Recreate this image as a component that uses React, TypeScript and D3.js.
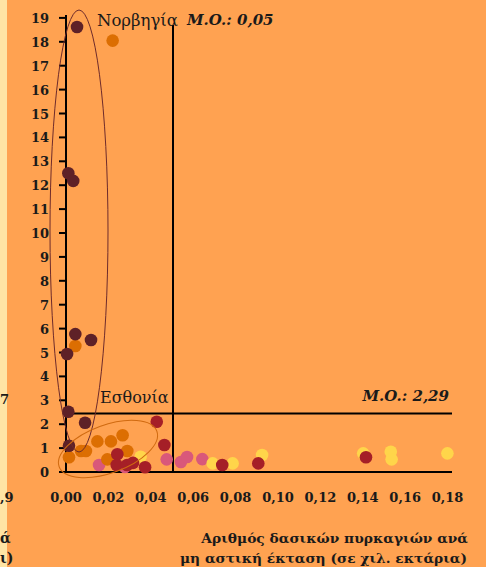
import React from "react";
import * as d3 from "d3";

const W = 486;
const H = 567;

const xTicks = [0, 0.02, 0.04, 0.06, 0.08, 0.1, 0.12, 0.14, 0.16, 0.18];
const yTicks = d3.range(0, 20);

const darkBrownPts: [number, number][] = [
  [0.0052, 18.62], [0.0011, 12.5], [0.0034, 12.18], [0.0044, 5.77], [0.0118, 5.52],
  [0.0005, 4.94], [0.0011, 2.52], [0.009, 2.06], [0.0014, 1.1],
];
const orangePts: [number, number][] = [
  [0.022, 18.05], [0.0044, 5.27], [0.0014, 0.62], [0.0071, 0.88], [0.0094, 0.88],
  [0.0148, 1.28], [0.0212, 1.28], [0.0267, 1.54], [0.0289, 0.88], [0.0195, 0.53],
];
const crimsonPts: [number, number][] = [
  [0.0428, 2.1], [0.0464, 1.13], [0.0242, 0.74], [0.0239, 0.29], [0.0288, 0.29],
  [0.0316, 0.38], [0.0373, 0.2], [0.0737, 0.29], [0.0907, 0.36], [0.1415, 0.62],
];
const pinkPts: [number, number][] = [
  [0.0156, 0.29], [0.0278, 0.21], [0.0475, 0.53], [0.0542, 0.42], [0.0571, 0.63], [0.0643, 0.54],
];
const yellowPts: [number, number][] = [
  [0.0352, 0.64], [0.0692, 0.36], [0.0786, 0.36], [0.0925, 0.71], [0.1402, 0.78],
  [0.1532, 0.85], [0.1536, 0.53], [0.1799, 0.78],
];

const meanX = 0.05;
const meanXLabel = "M.O.: 0,05";
const meanYPos = 2.45; // drawn position as in the picture
const meanYLabel = "M.O.: 2,29";

const series = [
  { pts: pinkPts, color: "#D9587A" },
  { pts: yellowPts, color: "#FFD54A" },
  { pts: orangePts, color: "#DC6E02" },
  { pts: crimsonPts, color: "#A51F27" },
  { pts: darkBrownPts, color: "#5E2127" },
];

const fmt = (v: number) => d3.format(".2f")(v).replace(".", ",");

export default function App() {
  const x = d3.scaleLinear().domain([0, 0.18]).range([66, 447.6]);
  const y = d3.scaleLinear().domain([0, 19]).range([472, 17.9]);
  const serif = "'DejaVu Serif', serif";
  return (
    <svg width={W} height={H} style={{ position: "absolute", left: 0, top: 0 }}>
      <rect x={0} y={0} width={W} height={H} fill="#FFA251" />
      <rect x={0} y={0} width={7} height={H} fill="#FFE4A4" />
      {/* fragments of neighbouring chart at the left edge */}
      <g fontFamily={serif} fontWeight="bold" fontSize={13} fill="#1a1a1a">
        <text x={0} y={404}>7</text>
        <text x={0} y={502}>,9</text>
        <text x={0} y={543} fontSize={14}>ά</text>
        <text x={0} y={563} fontSize={14}>ι)</text>
      </g>

      {/* y axis */}
      <line x1={66} x2={66} y1={y(19) - 3} y2={y(0)} stroke="#000" strokeWidth={2} />
      {yTicks.map((t) => (
        <g key={t}>
          <line x1={59} x2={66} y1={y(t)} y2={y(t)} stroke="#000" strokeWidth={2} />
          <text x={49} y={y(t) + 5} textAnchor="end" fontFamily={serif} fontWeight="bold" fontSize={13} fill="#1a1a1a">
            {t}
          </text>
        </g>
      ))}
      {/* x axis */}
      <line x1={59} x2={452} y1={y(0)} y2={y(0)} stroke="#000" strokeWidth={2} />
      {xTicks.map((t) => (
        <text key={t} x={x(t)} y={502} textAnchor="middle" fontFamily={serif} fontWeight="bold" fontSize={13} fill="#1a1a1a">
          {fmt(t)}
        </text>
      ))}

      {/* mean lines */}
      <line x1={x(meanX) + 1} x2={x(meanX) + 1} y1={25} y2={y(0)} stroke="#000" strokeWidth={2} />
      <line x1={66} x2={452} y1={y(meanYPos)} y2={y(meanYPos)} stroke="#000" strokeWidth={2} />

      {/* points */}
      {series.map((s, i) => (
        <g key={i}>
          {s.pts.map((p, j) => (
            <circle key={j} cx={x(p[0])} cy={y(p[1])} r={6.3} fill={s.color} />
          ))}
        </g>
      ))}

      {/* ellipses */}
      <ellipse cx={79} cy={231} rx={29} ry={221} fill="none" stroke="#6E2B2B" strokeWidth={1} />
      <ellipse cx={0} cy={0} rx={52} ry={24} fill="none" stroke="#D06A10" strokeWidth={1}
        transform="translate(108,449) rotate(-20)" />

      {/* labels */}
      <text x={97} y={26} fontFamily={serif} fontSize={16.5} fill="#1a1a1a">Νορβηγία</text>
      <text x={100} y={403} fontFamily={serif} fontSize={16} fill="#1a1a1a">Εσθονία</text>
      <text x={187} y={25} fontFamily={serif} fontWeight="bold" fontStyle="italic" fontSize={15} fill="#1a1a1a">{meanXLabel}</text>
      <text x={449} y={401} textAnchor="end" fontFamily={serif} fontWeight="bold" fontStyle="italic" fontSize={15} fill="#1a1a1a">{meanYLabel}</text>

      <g fontFamily={serif} fontWeight="bold" fontSize={13.8} fill="#1a1a1a" textAnchor="end">
        <text x={468} y={543}>Αριθμός δασικών πυρκαγιών ανά</text>
        <text x={467} y={563}>μη αστική έκταση (σε χιλ. εκτάρια)</text>
      </g>
    </svg>
  );
}
